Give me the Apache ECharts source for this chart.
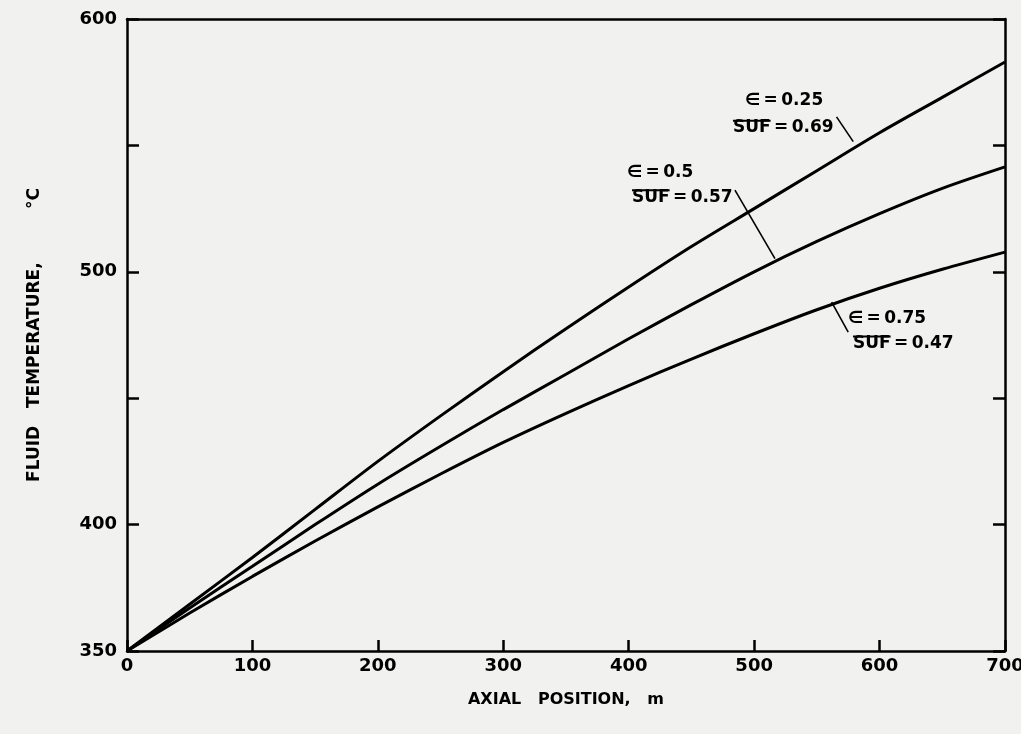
<!DOCTYPE html>
<html><head><meta charset="utf-8">
<script src="https://cdn.jsdelivr.net/npm/echarts@6/dist/echarts.min.js"></script>
<style>html,body{margin:0;padding:0;background:#f1f1ef}#c{width:1021px;height:734px}</style>
</head><body><div id="c"></div>
<script>
// Axial position (m)
const positions = [0, 50, 100, 150, 200, 250, 300, 350, 400, 450, 500, 550, 600, 650, 700];
// Fluid temperature (°C) for each epsilon
const tempEps025 = [350, 368.5, 387, 406, 425, 443, 460.5, 477.5, 494, 510, 525, 540, 555, 569, 583];
const tempEps050 = [350, 367, 383.5, 400, 416, 431, 445.5, 459.5, 473.5, 487, 500, 512, 523, 533, 541.5];
const tempEps075 = [350, 365, 379.5, 393.5, 407, 420, 432.5, 444, 455, 465.5, 475.5, 485, 493.5, 501, 507.8];
const yLabelValues = [350, 400, 500, 600];
const xTitle = 'AXIAL   POSITION,   m';
const yTitle = 'FLUID   TEMPERATURE,         \u00B0C';
// annotation anchors in data units
const annEps = ['0.25', '0.5', '0.75'];
const annSuf = ['0.69', '0.57', '0.47'];
const annEpsAt = [[492.7, 571.0], [398.6, 542.5], [574.8, 484.9]];
const annSufAt = [[483.1, 560.3], [402.6, 532.9], [578.8, 475.0]];
const annLeaders = [[[565.7, 561.3], [579, 551.5]], [[484.7, 532.3], [516.6, 505.2]], [[561.8, 488.0], [575, 476.1]]];

const FONT = '"DejaVu Sans", sans-serif';
const chart = echarts.init(document.getElementById('c'));
function pairs(vals){ return positions.map((p,i)=>[p, vals[i]]); }
function mkSeries(vals, k){
  return {
    type:'line', data:pairs(vals), showSymbol:false, smooth:0.3,
    lineStyle:{color:'#000', width:3}, silent:true,
    markLine:{silent:true, symbol:'none', label:{show:false},
      lineStyle:{color:'#000', width:1.6, type:'solid'},
      data:[[{coord:annLeaders[k][0]},{coord:annLeaders[k][1]}]]}
  };
}
const axisLine = {show:true, onZero:false, lineStyle:{color:'#000', width:2.5}};
chart.setOption({
  backgroundColor:'#f1f1ef',
  animation:false,
  grid:{left:127, right:16, top:19, bottom:83, outerBoundsMode:'none', containLabel:false},
  xAxis:[{
    type:'value', min:0, max:700, interval:100, position:'bottom',
    axisLine:axisLine, splitLine:{show:false},
    axisTick:{show:true, inside:true, length:11, lineStyle:{color:'#000', width:2.5}},
    axisLabel:{color:'#000', fontFamily:FONT, fontWeight:'bold', fontSize:18, margin:6},
    name:xTitle, nameLocation:'middle', nameGap:41,
    nameTextStyle:{color:'#000', fontFamily:FONT, fontWeight:'bold', fontSize:16}
  },{
    type:'value', min:0, max:700, interval:100, position:'top',
    axisLine:axisLine, splitLine:{show:false}, axisTick:{show:false}, axisLabel:{show:false}
  }],
  yAxis:[{
    type:'value', min:350, max:600, interval:50, position:'left',
    axisLine:axisLine, splitLine:{show:false},
    axisTick:{show:true, inside:true, length:12, lineStyle:{color:'#000', width:2.5}},
    axisLabel:{color:'#000', fontFamily:FONT, fontWeight:'bold', fontSize:18, margin:10,
      formatter:v=> yLabelValues.includes(v) ? String(v) : ''},
    name:yTitle, nameLocation:'middle', nameGap:84, nameRotate:90,
    nameTextStyle:{color:'#000', fontFamily:FONT, fontWeight:'bold', fontSize:17}
  },{
    type:'value', min:350, max:600, interval:50, position:'right',
    axisLine:axisLine, splitLine:{show:false},
    axisTick:{show:true, inside:true, length:12, lineStyle:{color:'#000', width:2.5}},
    axisLabel:{show:false}
  }],
  series:[mkSeries(tempEps025,0), mkSeries(tempEps050,1), mkSeries(tempEps075,2)]
});

// annotations
const ctx = document.createElement('canvas').getContext('2d');
const annFont = 'bold 17px ' + FONT;
ctx.font = annFont;
const sufW = ctx.measureText('SUF').width;
const els = [];
for (let k=0;k<3;k++){
  const pe = chart.convertToPixel({gridIndex:0}, annEpsAt[k]);
  const ps = chart.convertToPixel({gridIndex:0}, annSufAt[k]);
  els.push({type:'text', x:pe[0], y:pe[1], silent:true,
    style:{text:'\u2208\u2009=\u2009' + annEps[k], font:annFont, fill:'#000', textVerticalAlign:'top', textAlign:'left'}});
  els.push({type:'text', x:ps[0], y:ps[1], silent:true,
    style:{text:'SUF\u2009=\u2009' + annSuf[k], font:annFont, fill:'#000', textVerticalAlign:'top', textAlign:'left'}});
  els.push({type:'line', silent:true, shape:{x1:ps[0], y1:ps[1]+1.5, x2:ps[0]+sufW, y2:ps[1]+1.5},
    style:{stroke:'#000', lineWidth:2}});
}
chart.setOption({graphic:els});
</script></body></html>
